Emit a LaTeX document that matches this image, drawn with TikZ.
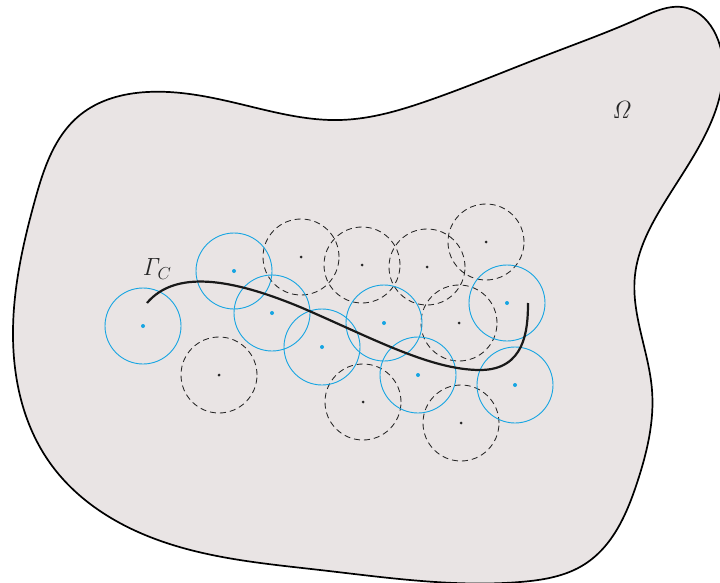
\documentclass[tikz,border=0pt]{standalone}
\usetikzlibrary{hobby}
\definecolor{regionfill}{RGB}{233,228,228}
\definecolor{ballblue}{RGB}{22,165,226}
\tikzset{
  ball/.style={circle, draw=ballblue, line width=0.9pt, minimum size=76pt, inner sep=0pt},
  dball/.style={circle, draw=black!85, dash pattern=on 6pt off 4pt, line width=0.85pt, minimum size=76pt, inner sep=0pt},
  bdot/.style={fill=ballblue},
  ddot/.style={fill=black!85},
  label/.style={font=\fontsize{26}{30}\selectfont, text=black!85}
}
\begin{document}
\begin{tikzpicture}[x=1pt,y=-1pt]
\useasboundingbox (0,0) rectangle (720,583);
\clip (0,0) rectangle (720,583);

% the domain
\draw[fill=regionfill, line width=1.7pt, use Hobby shortcut, closed=true]
  (687,8) .. (716,35) .. (712,120) .. (660,210) .. (635,275)
  .. (652,390) .. (637,483) .. (585,564) .. (520,582) .. (320,570)
  .. (150,537) .. (50,463) .. (13,330) .. (35,200) .. (80,115)
  .. (147,92) .. (240,104) .. (340,120) .. (430,100) .. (547,55)
  .. (640,18);

% dashed balls
\node[dball] (d1) at (219,375) {};
\node[dball] (d2) at (301,257) {};
\node[dball] (d3) at (362,265) {};
\node[dball] (d4) at (427,267) {};
\node[dball] (d5) at (486,242) {};
\node[dball] (d6) at (459,323) {};
\node[dball] (d7) at (363,402) {};
\node[dball] (d8) at (461,423) {};
\foreach \n in {d1,d2,d3,d4,d5,d6,d7,d8} \fill[ddot] (\n) circle (1.5pt);

% balls centred on the crack
\node[ball] (b1) at (143,326) {};
\node[ball] (b2) at (234,271) {};
\node[ball] (b3) at (272,313) {};
\node[ball] (b4) at (322,347) {};
\node[ball] (b5) at (384,323) {};
\node[ball] (b6) at (418,375) {};
\node[ball] (b7) at (507,303) {};
\node[ball] (b8) at (515,385) {};
\foreach \n in {b1,b2,b3,b4,b5,b6,b7,b8} \fill[bdot] (\n) circle (2pt);

% the crack
\coordinate (g0) at (147,303);
\coordinate (g1) at (300,307);
\coordinate (g2) at (480,370);
\coordinate (g3) at (528,303);
\draw[line width=2.2pt, black!90]
  (g0) .. controls (175,270) and (230,278) .. (g1)
       .. controls (370,337) and (430,370) .. (g2)
       .. controls (525,370) and (528,330) .. (g3);

% labels
\node[label] (gamma) at (157,269) {$\mathit{\Gamma}_C$};
\node[label] (omega) at (622,110) {$\mathit{\Omega}$};
\end{tikzpicture}
\end{document}
